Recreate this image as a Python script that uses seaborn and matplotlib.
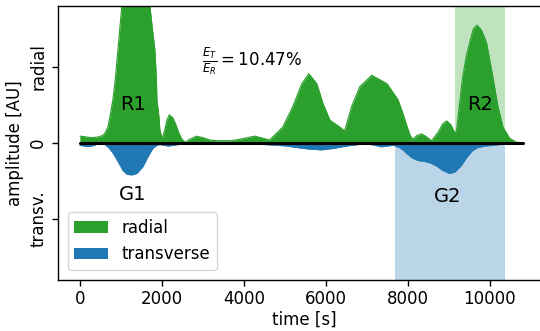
import matplotlib
matplotlib.use("Agg")
import matplotlib.pyplot as plt
import seaborn as sns
import pandas as pd

# Envelope amplitudes of the radial and transverse components
time_radial = [0, 150, 300, 450, 561, 622, 683, 744, 805, 866, 927, 976, 1024,
               1370, 1707, 1768, 1829, 1866, 1878, 1927, 1951, 1988, 2017, 2073,
               2122, 2180, 2268, 2341, 2415, 2488, 2573, 2683, 2845, 3000, 3170,
               3340, 3700, 4000, 4268, 4560, 4630, 4950, 5195, 5415, 5585, 5780,
               5930, 6100, 6340, 6460, 6630, 6830, 7120, 7490, 7760, 7880, 7980,
               8060, 8120, 8230, 8340, 8460, 8580, 8750, 8850, 8950, 9050, 9160,
               9190, 9245, 9340, 9420, 9510, 9600, 9690, 9800, 9920, 10075, 10200,
               10320, 10490, 10650, 10800]
radial = [0.09, 0.08, 0.07, 0.08, 0.10, 0.14, 0.21, 0.38, 0.57, 0.85, 1.22, 1.52, 1.80,
          3.50, 1.80, 1.50, 1.22, 0.85, 0.57, 0.35, 0.17, 0.09, 0.07, 0.18,
          0.30, 0.37, 0.33, 0.24, 0.13, 0.05, 0.01, 0.05, 0.09, 0.07, 0.04,
          0.03, 0.03, 0.06, 0.09, 0.05, 0.04, 0.21, 0.48, 0.78, 0.91, 0.78,
          0.52, 0.30, 0.21, 0.16, 0.48, 0.74, 0.89, 0.78, 0.57, 0.39, 0.22,
          0.10, 0.05, 0.10, 0.12, 0.08, 0.03, 0.15, 0.25, 0.29, 0.24, 0.12,
          0.17, 0.43, 0.87, 1.12, 1.32, 1.50, 1.55, 1.48, 1.32, 0.87, 0.48,
          0.21, 0.06, 0.01, 0.00]

time_transverse = [0, 100, 250, 400, 500, 610, 700, 805, 927, 1049, 1146, 1260,
                   1390, 1537, 1660, 1780, 1880, 1950, 2150, 2300, 2500, 3000,
                   3500, 4000, 4500, 4800, 5050, 5300, 5600, 5900, 6200, 6500,
                   6800, 7000, 7200, 7350, 7500, 7650, 7800, 7900, 8000, 8120,
                   8250, 8400, 8540, 8700, 8850, 9020, 9150, 9300, 9450, 9580,
                   9700, 9900, 10100, 10380, 10500]
transverse = [-0.03, -0.04, -0.045, -0.02, -0.01, -0.02, -0.06, -0.13, -0.24, -0.36,
              -0.41, -0.42, -0.40, -0.31, -0.18, -0.07, -0.03, -0.02, -0.04, -0.03,
              -0.01, -0.01, -0.01, -0.015, -0.02, -0.03, -0.04, -0.06, -0.08, -0.09,
              -0.07, -0.04, -0.02, -0.01, -0.03, -0.05, -0.04, -0.03, -0.06, -0.10,
              -0.15, -0.20, -0.23, -0.24, -0.26, -0.30, -0.36, -0.40, -0.38, -0.30,
              -0.18, -0.10, -0.06, -0.04, -0.03, -0.01, 0.00]

# Selected windows
radial_window = (9160, 10380)
transverse_window = (7680, 10380)

energy_ratio = 10.47  # percent

peak_labels = ["R1", "G1", "R2", "G2"]
peak_label_pos = [(1290, 0.50), (1290, -0.68), (9760, 0.50), (8980, -0.70)]

sns.set_theme(style="ticks", rc={
    "axes.edgecolor": "black",
    "axes.linewidth": 1.0,
    "xtick.color": "black",
    "ytick.color": "black",
    "axes.labelcolor": "black",
    "text.color": "black",
})
plt.rcParams["font.family"] = ["DejaVu Sans"]

fig = plt.figure(figsize=(5.40, 3.31), dpi=100)
ax = fig.add_axes([0.107, 0.154, 0.913, 0.828])

green = "#2ca02c"
blue = "#1f77b4"

rad_df = pd.DataFrame({"time": time_radial, "amp": radial})
tr_df = pd.DataFrame({"time": time_transverse, "amp": transverse})

# Highlighted windows
ax.fill_between(radial_window, 0, 5, color=green, alpha=0.3, lw=0, zorder=1)
ax.fill_between(transverse_window, -5, 0, color=blue, alpha=0.3, lw=0, zorder=1)

# Envelopes
ax.fill_between(rad_df["time"], 0, rad_df["amp"], color=green, lw=0,
                label="radial", zorder=2)
ax.fill_between(tr_df["time"], tr_df["amp"], 0, color=blue, lw=0,
                label="transverse", zorder=2)
sns.lineplot(data=rad_df, x="time", y="amp", color=green, lw=0.8, ax=ax,
             zorder=2, legend=False)
sns.lineplot(data=tr_df, x="time", y="amp", color=blue, lw=0.8, ax=ax,
             zorder=2, legend=False)

# Baseline
base = pd.DataFrame({"time": [0, 10800], "amp": [0, 0]})
sns.lineplot(data=base, x="time", y="amp", color="black", lw=2.2, ax=ax,
             zorder=3, legend=False)

for lab, (x, y) in zip(peak_labels, peak_label_pos):
    ax.text(x, y, lab, fontsize=14, ha="center", va="center", zorder=4)

ax.text(2975, 1.07, r"$\frac{E_T}{E_R} = %.2f\%%$" % energy_ratio, fontsize=12,
        ha="left", va="center", zorder=4)

ax.set_xlim(-540, 11490)
ax.set_ylim(-1.8, 1.8)
ax.set_xticks([0, 2000, 4000, 6000, 8000, 10000])
ax.set_yticks([-1, 0, 1])
ax.set_yticklabels(["transv.", "0", "radial"], rotation=90, va="center")
ax.tick_params(labelsize=12, length=4, width=1)
ax.set_xlabel("time [s]", fontsize=12, labelpad=2)
ax.set_ylabel("amplitude [AU]", fontsize=12, labelpad=4)

ax.legend(loc="lower left", fontsize=12, frameon=True, handlelength=2,
          borderaxespad=0.6)

fig.savefig("out.png", dpi=100)
